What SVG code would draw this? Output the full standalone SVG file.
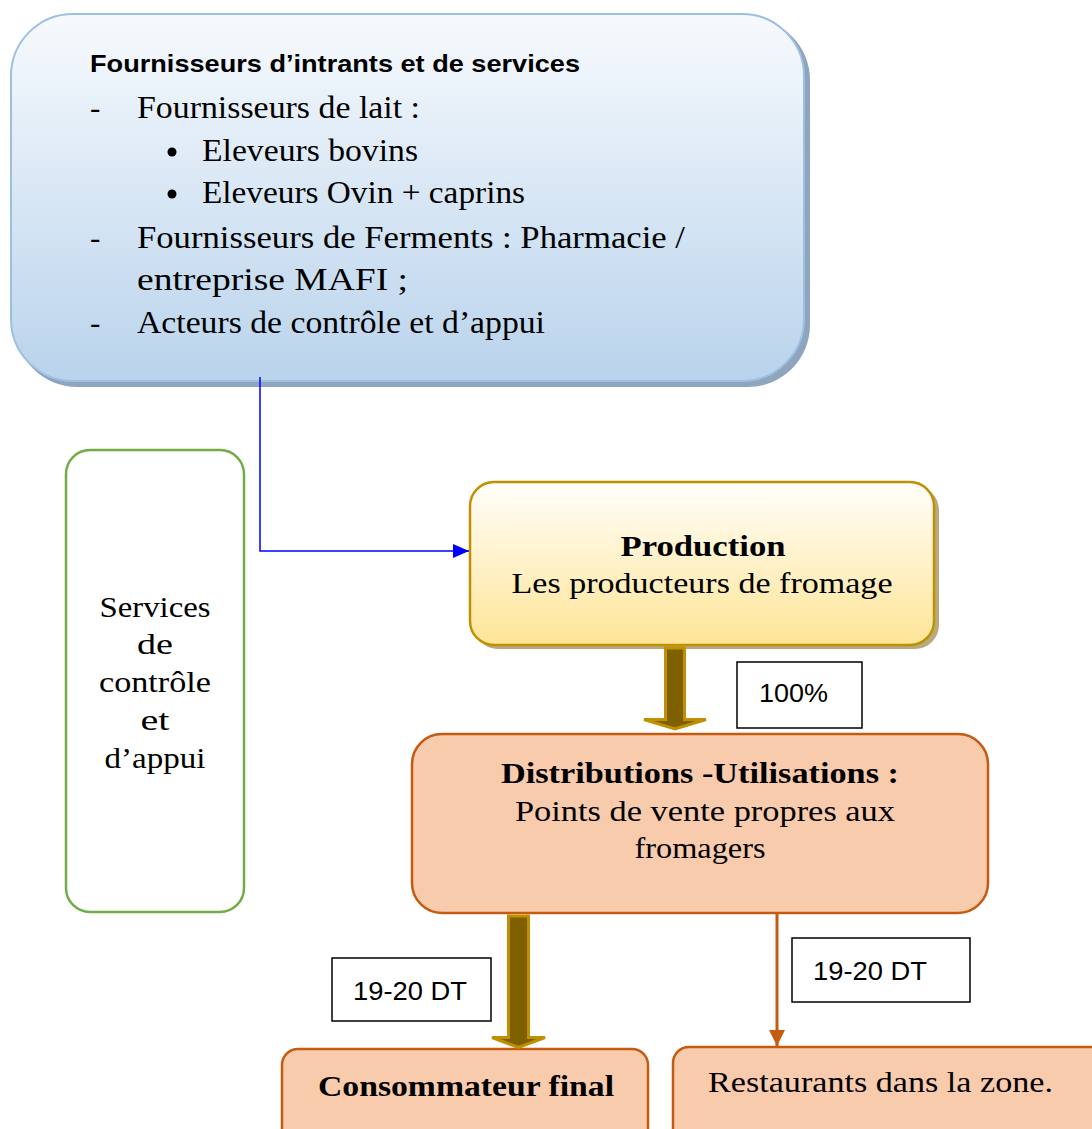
<svg xmlns="http://www.w3.org/2000/svg" width="1092" height="1129" viewBox="0 0 1092 1129">
  <defs>
    <linearGradient id="gBlue" x1="0" y1="0" x2="0" y2="1">
      <stop offset="0" stop-color="#f7fafd"/>
      <stop offset="1" stop-color="#b9d3ec"/>
    </linearGradient>
    <linearGradient id="gGold" x1="0" y1="0" x2="0" y2="1">
      <stop offset="0" stop-color="#fffefb"/>
      <stop offset="1" stop-color="#ffe597"/>
    </linearGradient>
    <marker id="blueHead" markerWidth="16" markerHeight="14" refX="16" refY="7" orient="auto" markerUnits="userSpaceOnUse">
      <path d="M0,0 L16,7 L0,14 Z" fill="#0000ff"/>
    </marker>
    <marker id="rustHead" markerWidth="16" markerHeight="16" refX="16" refY="8" orient="auto" markerUnits="userSpaceOnUse">
      <path d="M0,0 L16,8 L0,16 Z" fill="#c55a11"/>
    </marker>
  </defs>
  <style>
    .serif { font-family: "Liberation Serif", "DejaVu Serif", serif; fill: #000; }
    .sans { font-family: "Liberation Sans", Arial, sans-serif; fill: #000; }
    .b { font-weight: bold; }
    .mid { text-anchor: middle; }
    .peach { fill: #f8cbad; stroke: #c55a11; stroke-width: 2.5; }
    .tag { fill: #fff; stroke: #000; stroke-width: 1.5; }
    .fat { fill: #7f6000; stroke: #bf9000; stroke-width: 3; stroke-linejoin: miter; }
  </style>

  <rect width="1092" height="1129" fill="#fff"/>

  <!-- suppliers box -->
  <g id="fournisseurs">
    <rect x="15" y="18" width="795" height="369" rx="62" fill="#8fa5bd"/>
    <rect x="11" y="14" width="793" height="367" rx="62" fill="url(#gBlue)" stroke="#9dc0e2" stroke-width="2"/>
    <text class="sans b" x="90" y="72" font-size="24" textLength="490" lengthAdjust="spacingAndGlyphs">Fournisseurs d’intrants et de services</text>
    <g class="serif" font-size="31">
      <text x="90" y="118">-</text>
      <text x="137" y="118" textLength="283" lengthAdjust="spacingAndGlyphs">Fournisseurs de lait :</text>
      <circle cx="172" cy="152" r="4.5" fill="#000"/>
      <text x="202" y="161" textLength="216" lengthAdjust="spacingAndGlyphs">Eleveurs bovins</text>
      <circle cx="172" cy="194" r="4.5" fill="#000"/>
      <text x="202" y="203" textLength="323" lengthAdjust="spacingAndGlyphs">Eleveurs Ovin + caprins</text>
      <text x="90" y="248">-</text>
      <text x="137" y="248" textLength="548" lengthAdjust="spacingAndGlyphs">Fournisseurs de Ferments : Pharmacie /</text>
      <text x="137" y="290" textLength="271" lengthAdjust="spacingAndGlyphs">entreprise MAFI ;</text>
      <text x="90" y="333">-</text>
      <text x="137" y="333" textLength="408" lengthAdjust="spacingAndGlyphs">Acteurs de contrôle et d’appui</text>
    </g>
  </g>

  <!-- control services box -->
  <g id="services">
    <rect x="66" y="450" width="178" height="462" rx="24" fill="#fff" stroke="#70ad47" stroke-width="2.5"/>
    <g class="serif mid" font-size="29">
      <text x="155" y="617" textLength="111" lengthAdjust="spacingAndGlyphs">Services</text>
      <text x="155" y="654" textLength="36" lengthAdjust="spacingAndGlyphs">de</text>
      <text x="155" y="692" textLength="112" lengthAdjust="spacingAndGlyphs">contrôle</text>
      <text x="155" y="730" textLength="29" lengthAdjust="spacingAndGlyphs">et</text>
      <text x="155" y="768" textLength="101" lengthAdjust="spacingAndGlyphs">d’appui</text>
    </g>
  </g>

  <!-- production box -->
  <g id="production">
    <rect x="474" y="486" width="465" height="163" rx="24" fill="#b9a97f"/>
    <rect x="470" y="482" width="464" height="163" rx="24" fill="url(#gGold)" stroke="#bf9000" stroke-width="2.5"/>
    <text class="serif b mid" x="703" y="556" font-size="30" textLength="165" lengthAdjust="spacingAndGlyphs">Production</text>
    <text class="serif mid" x="702" y="593" font-size="30" textLength="381" lengthAdjust="spacingAndGlyphs">Les producteurs de fromage</text>
  </g>

  <!-- distribution box -->
  <g id="distribution">
    <rect class="peach" x="412" y="734" width="576" height="179" rx="30"/>
    <text class="serif b mid" x="700" y="783" font-size="30" textLength="398" lengthAdjust="spacingAndGlyphs">Distributions -Utilisations :</text>
    <text class="serif mid" x="705" y="821" font-size="30" textLength="380" lengthAdjust="spacingAndGlyphs">Points de vente propres aux</text>
    <text class="serif mid" x="700" y="858" font-size="30" textLength="131" lengthAdjust="spacingAndGlyphs">fromagers</text>
  </g>

  <!-- end consumers -->
  <g id="consommateur">
    <rect class="peach" x="282" y="1049" width="366" height="100" rx="16"/>
    <text class="serif b mid" x="466" y="1096" font-size="30" textLength="296" lengthAdjust="spacingAndGlyphs">Consommateur final</text>
  </g>

  <g id="restaurants">
    <rect class="peach" x="673" y="1047" width="440" height="100" rx="16"/>
    <text class="serif" x="708" y="1092" font-size="30" textLength="345" lengthAdjust="spacingAndGlyphs">Restaurants dans la zone.</text>
  </g>

  <!-- flow labels -->
  <g id="label-100">
    <rect class="tag" x="737" y="662" width="125" height="66"/>
    <text class="sans" x="759" y="702" font-size="25" textLength="69" lengthAdjust="spacingAndGlyphs">100%</text>
  </g>
  <g id="label-prix-consommateur">
    <rect class="tag" x="332" y="958" width="159" height="63"/>
    <text class="sans" x="353" y="1000" font-size="25" textLength="114" lengthAdjust="spacingAndGlyphs">19-20 DT</text>
  </g>
  <g id="label-prix-restaurants">
    <rect class="tag" x="792" y="938" width="178" height="64"/>
    <text class="sans" x="813" y="980" font-size="25" textLength="114" lengthAdjust="spacingAndGlyphs">19-20 DT</text>
  </g>

  <!-- connectors -->
  <g id="connectors">
    <path d="M260,377 V551 H469" fill="none" stroke="#0000ff" stroke-width="1.5" marker-end="url(#blueHead)"/>
    <path class="fat" d="M665.5,648 H684.5 V719.5 H706 L675,729 L644,719.5 H665.5 Z"/>
    <path class="fat" d="M508.5,916 H528.5 V1037.5 H545 L518.5,1047.5 L492,1037.5 H508.5 Z"/>
    <line x1="777" y1="914" x2="777" y2="1046" stroke="#c55a11" stroke-width="3" marker-end="url(#rustHead)"/>
  </g>
</svg>
